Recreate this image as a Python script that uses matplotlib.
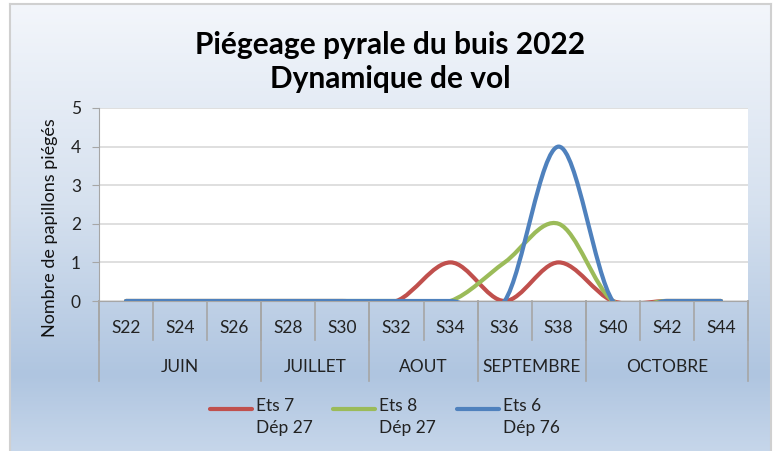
import numpy as np
import matplotlib
matplotlib.use("Agg")
import matplotlib.pyplot as plt
from matplotlib.path import Path
from matplotlib.patches import PathPatch
from matplotlib.lines import Line2D
from matplotlib.colors import LinearSegmentedColormap

plt.rcParams['font.family'] = ['Lato', 'DejaVu Sans']

# ---- data ----
weeks = ["S22", "S24", "S26", "S28", "S30", "S32", "S34", "S36", "S38", "S40", "S42", "S44"]
months = ["JUIN", "JUILLET", "AOUT", "SEPTEMBRE", "OCTOBRE"]
month_spans = [3, 2, 2, 2, 3]  # number of weeks per month group
ets7_dep27 = [0, 0, 0, 0, 0, 0, 1, 0, 1, 0, 0, 0]
ets8_dep27 = [0, 0, 0, 0, 0, 0, 0, 1, 2, 0, 0, 0]
ets6_dep76 = [0, 0, 0, 0, 0, 0, 0, 0, 4, 0, 0, 0]
series_labels = ["Ets 7\nDép 27", "Ets 8\nDép 27", "Ets 6\nDép 76"]
series_colors = ["#C0504D", "#9BBB59", "#4F81BD"]
title = "Piégeage pyrale du buis 2022\nDynamique de vol"
ylabel = "Nombre de papillons piégés"

W, H = 778, 451
fig = plt.figure(figsize=(W / 100, H / 100), dpi=100)

# background gradient chart area
bg = fig.add_axes([10 / W, 0, (771 - 10) / W, 1 - 4 / H], zorder=0)
cmap = LinearSegmentedColormap.from_list(
    "bg", [(0.0, "#F3F6FB"), (0.45, "#D6E1EF"), (0.83, "#AFC5E0"), (1.0, "#C6D6EA")])
grad = np.linspace(0, 1, 256).reshape(-1, 1)
bg.imshow(grad, aspect="auto", cmap=cmap, extent=[0, 1, 0, 1], origin="upper")
bg.set_xlim(0, 1); bg.set_ylim(0, 1)
bg.set_xticks([]); bg.set_yticks([])
for s in ["left", "top", "right"]:
    bg.spines[s].set_color("#D0D0D0"); bg.spines[s].set_linewidth(1.5)
bg.spines["bottom"].set_visible(False)

# plot area
x0, x1 = 99, 748
y_top, y_zero = 108, 301
ax = fig.add_axes([x0 / W, 1 - y_zero / H, (x1 - x0) / W, (y_zero - y_top) / H], zorder=2)
ax.set_facecolor("white")
n = len(weeks)
ax.set_xlim(-0.5, n - 0.5)
ax.set_ylim(0, 5)
ax.set_yticks(range(0, 6))
ax.yaxis.grid(True, color="#D9D9D9", linewidth=1.2)
ax.set_axisbelow(True)
ax.tick_params(axis="y", length=5, color="#A6A6A6", labelsize=12.5, labelcolor="#222222", pad=8)
ax.set_xticks([])
for s in ["top", "right"]:
    ax.spines[s].set_visible(False)
ax.spines["left"].set_color("#A6A6A6")
ax.spines["bottom"].set_color("#A6A6A6")
ax.set_ylabel(ylabel, fontsize=13, color="#111111")
ax.yaxis.set_label_coords(-0.063, 0.38)


def smooth_path(xs, ys):
    pts = np.column_stack([xs, ys]).astype(float)
    m = len(pts)
    verts = [pts[0]]
    codes = [Path.MOVETO]
    for i in range(m - 1):
        p0 = pts[i - 1] if i > 0 else pts[i]
        p1 = pts[i]
        p2 = pts[i + 1]
        p3 = pts[i + 2] if i + 2 < m else pts[i + 1]
        c1 = p1 + (p2 - p0) / 6.0
        c2 = p2 - (p3 - p1) / 6.0
        verts += [c1, c2, p2]
        codes += [Path.CURVE4] * 3
    return Path(verts, codes)


xs = np.arange(n)
for vals, col in zip([ets7_dep27, ets8_dep27, ets6_dep76], series_colors):
    patch = PathPatch(smooth_path(xs, vals), facecolor="none", edgecolor=col,
                      linewidth=3.0, capstyle="round", joinstyle="round", zorder=3)
    ax.add_patch(patch)

# category axis (two levels)
trans = ax.get_xaxis_transform()
def fy(ypix):
    return -(ypix - y_zero) / (y_zero - y_top)

y_week_end = 340
y_month_end = 381
for i in range(n + 1):
    xb = i - 0.5
    ax.add_line(Line2D([xb, xb], [0, fy(y_week_end)], transform=trans, color="#A6A6A6",
                       linewidth=1.2, clip_on=False))
for i, w in enumerate(weeks):
    ax.text(i, fy(328), w, transform=trans, ha="center", va="center", fontsize=12.5,
            color="#222222", clip_on=False)
start = 0
bounds = [-0.5]
for m_name, span in zip(months, month_spans):
    center = start + (span - 1) / 2.0
    ax.text(center, fy(367), m_name, transform=trans, ha="center", va="center", fontsize=12.5,
            color="#222222", clip_on=False)
    start += span
    bounds.append(start - 0.5)
for xb in bounds:
    ax.add_line(Line2D([xb, xb], [0, fy(y_month_end)], transform=trans, color="#A6A6A6",
                       linewidth=1.2, clip_on=False))

# title
fig.text(390 / W, 1 - 62 / H, title, ha="center", va="center", fontsize=21.5, fontweight="bold",
         color="#000000", linespacing=1.3)

# legend (manual)
leg_x = [210, 333, 457]
for lx, col, lab in zip(leg_x, series_colors, series_labels):
    fig.add_artist(Line2D([lx / W, (lx + 42) / W], [1 - 409 / H, 1 - 409 / H], color=col,
                          linewidth=3.0, solid_capstyle="round", transform=fig.transFigure))
    fig.text((lx + 46) / W, 1 - 398 / H, lab, ha="left", va="top", fontsize=12.5,
             color="#222222", linespacing=1.45)

fig.savefig("out.png", dpi=100)
